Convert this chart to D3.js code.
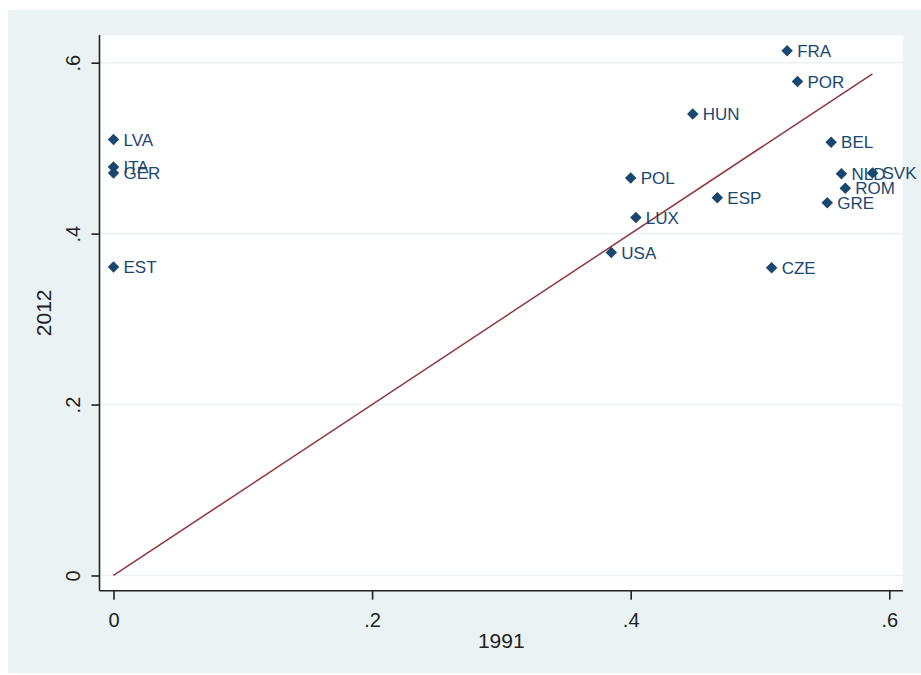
<!DOCTYPE html>
<html>
<head>
<meta charset="utf-8">
<script src="https://cdn.jsdelivr.net/npm/d3@7"></script>
<style>
  html, body { margin: 0; padding: 0; background: #ffffff; }
  svg { display: block; font-family: "Liberation Sans", Arial, sans-serif; }
</style>
</head>
<body>
<svg id="chart" width="921" height="675"></svg>
<script>
// ---- data ----
const countries = ["FRA","POR","HUN","BEL","NLD","SVK","ROM","GRE","POL","ESP","LUX","USA","CZE","LVA","ITA","GER","EST"];
const x1991 =     [0.521, 0.529, 0.448, 0.555, 0.563, 0.587, 0.566, 0.552, 0.400, 0.467, 0.404, 0.385, 0.509, 0.000, 0.000, 0.000, 0.000];
const y2012 =     [0.614, 0.578, 0.540, 0.507, 0.470, 0.471, 0.453, 0.436, 0.465, 0.442, 0.419, 0.378, 0.360, 0.510, 0.478, 0.471, 0.361];
const xTicks = [0, 0.2, 0.4, 0.6];
const yTicks = [0, 0.2, 0.4, 0.6];
const xTickLabels = ["0", ".2", ".4", ".6"];
const yTickLabels = ["0", ".2", ".4", ".6"];
const xTitle = "1991";
const yTitle = "2012";

const data = countries.map((c, i) => ({ name: c, x: x1991[i], y: y2012[i] }));

// ---- layout ----
const svg = d3.select("#chart");
const W = 921, H = 675;
const plot = { left: 99.5, right: 903, top: 35, bottom: 590.7 };

const x = d3.scaleLinear().domain([-0.01083, 0.6106]).range([plot.left, plot.right]);
const y = d3.scaleLinear().domain([-0.0178, 0.6324]).range([plot.bottom, plot.top]);

const bg = "#eaf2f3", navy = "#1a476f", maroon = "#90353b";

svg.append("rect").attr("x", 0).attr("y", 0).attr("width", W).attr("height", H).attr("fill", "#ffffff");
svg.append("rect").attr("x", 8).attr("y", 10).attr("width", W - 8).attr("height", 663).attr("fill", bg);
svg.append("rect").attr("x", plot.left).attr("y", plot.top)
  .attr("width", plot.right - plot.left).attr("height", plot.bottom - plot.top).attr("fill", "#ffffff");

// gridlines
svg.append("g").selectAll("line").data(yTicks).join("line")
  .attr("x1", plot.left).attr("x2", plot.right)
  .attr("y1", d => y(d)).attr("y2", d => y(d))
  .attr("stroke", bg).attr("stroke-width", 1.6);

// 45-degree line
const maxX = d3.max(x1991);
svg.append("line")
  .attr("x1", x(0)).attr("y1", y(0))
  .attr("x2", x(maxX)).attr("y2", y(maxX))
  .attr("stroke", maroon).attr("stroke-width", 1.5);

// markers
const diamond = d3.symbol().type(d3.symbolSquare).size(66);
svg.append("g").selectAll("path").data(data).join("path")
  .attr("d", diamond)
  .attr("transform", d => `translate(${x(d.x)},${y(d.y)}) rotate(45)`)
  .attr("fill", navy);

// labels
svg.append("g").selectAll("text").data(data).join("text")
  .attr("x", d => x(d.x) + 10)
  .attr("y", d => y(d.y))
  .attr("dy", "0.36em")
  .attr("fill", navy)
  .attr("font-size", 17)
  .text(d => d.name);

// y axis
const yAxis = d3.axisLeft(y).tickValues(yTicks).tickSize(8).tickFormat((d, i) => yTickLabels[i]);
const gy = svg.append("g").attr("transform", `translate(${plot.left},0)`).call(yAxis);
gy.select(".domain").attr("d", `M0,${plot.top}V${plot.bottom}`).attr("stroke", "#222").attr("stroke-width", 1.6);
gy.selectAll(".tick line").attr("stroke", "#222").attr("stroke-width", 1.6);
gy.selectAll(".tick text")
  .attr("font-size", 20).attr("fill", "#222")
  .attr("font-family", "Liberation Sans, Arial, sans-serif")
  .attr("x", null).attr("dy", null)
  .attr("text-anchor", "middle")
  .attr("transform", "translate(-20,0) rotate(-90)");

// x axis
const xAxis = d3.axisBottom(x).tickValues(xTicks).tickSize(9).tickFormat((d, i) => xTickLabels[i]);
const gx = svg.append("g").attr("transform", `translate(0,${plot.bottom})`).call(xAxis);
gx.select(".domain").attr("d", `M${plot.left},0H${plot.right}`).attr("stroke", "#222").attr("stroke-width", 1.6);
gx.selectAll(".tick line").attr("stroke", "#222").attr("stroke-width", 1.6);
gx.selectAll(".tick text")
  .attr("font-size", 20).attr("fill", "#222")
  .attr("font-family", "Liberation Sans, Arial, sans-serif")
  .attr("y", 36).attr("dy", null);

// axis titles
svg.append("text")
  .attr("x", (plot.left + plot.right) / 2).attr("y", 647.5)
  .attr("text-anchor", "middle").attr("font-size", 21).attr("fill", "#222")
  .text(xTitle);
svg.append("text")
  .attr("transform", `translate(51,${(plot.top + plot.bottom) / 2}) rotate(-90)`)
  .attr("text-anchor", "middle").attr("font-size", 21).attr("fill", "#222")
  .text(yTitle);
</script>
</body>
</html>
